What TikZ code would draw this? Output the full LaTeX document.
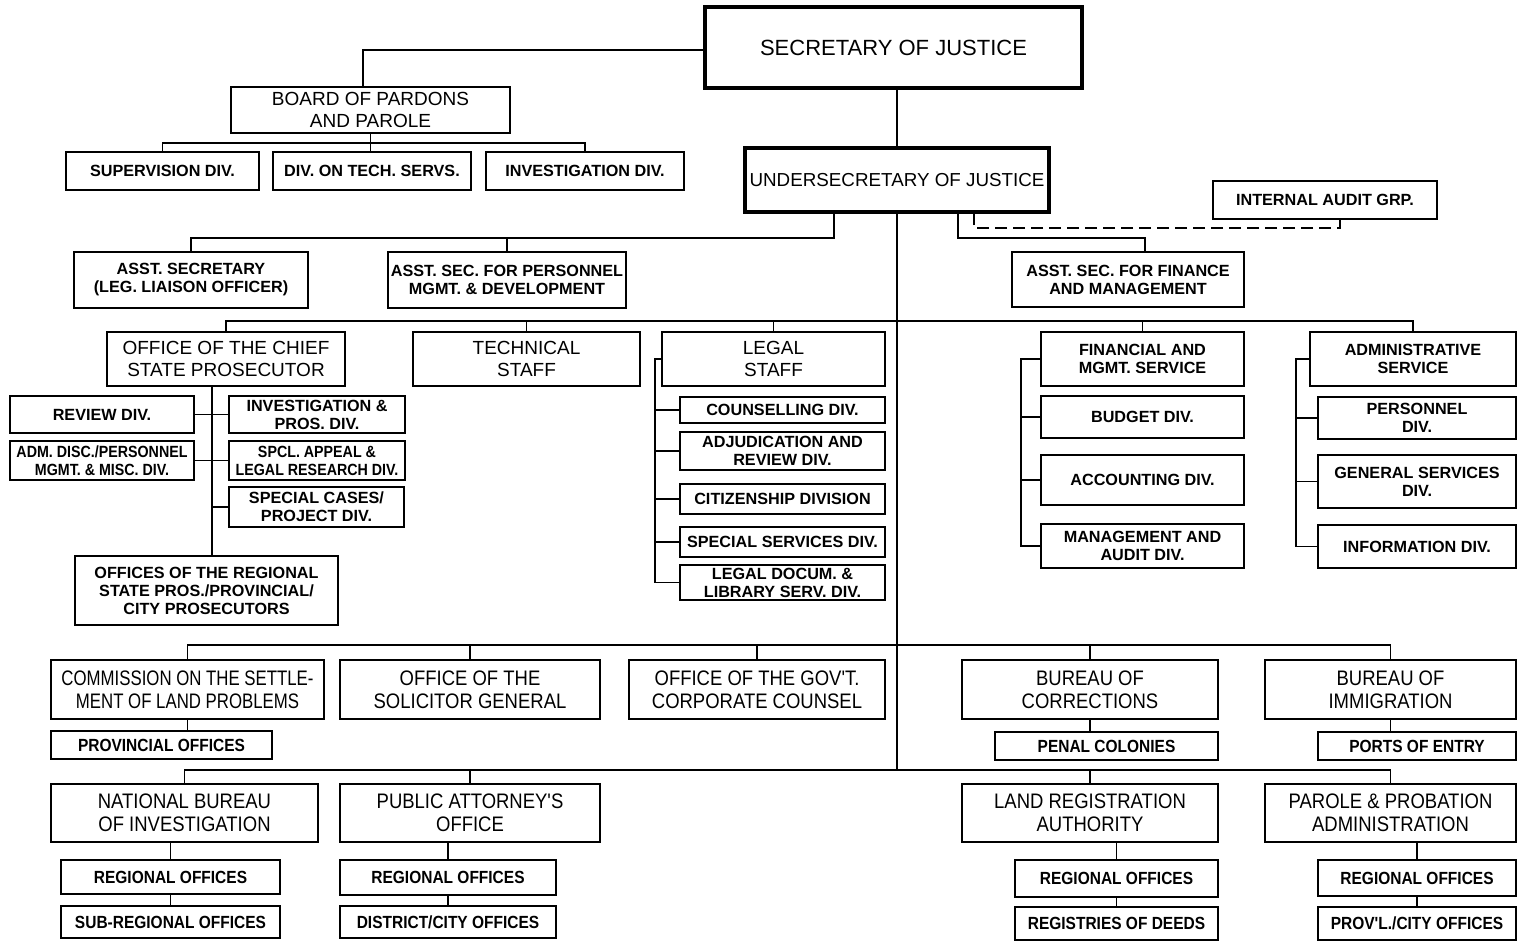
\documentclass[tikz,border=0pt]{standalone}
\usepackage{fontspec}
\setmainfont{Liberation Sans}
\newfontfamily\condf[FakeStretch=0.88]{Liberation Sans}
\newfontfamily\condff[FakeStretch=0.8]{Liberation Sans}
\usetikzlibrary{calc}
\newcommand\bx[7][]{\node[box,#1,minimum width={(#5-#3)*0.5pt},minimum height={(#6-#4)*0.5pt}] (#2) at ({(#3+#5)/2},{(#4+#6)/2}) {#7};}
\tikzset{
  box/.style={draw, line width=1pt, inner sep=1pt, outer sep=0pt, align=center},
  topbox/.style={line width=1.7pt, font=\fontsize{11}{13}\selectfont},
  big/.style={font=\fontsize{9.5}{11}\selectfont},
  sm/.style={font=\fontsize{8.1}{9}\selectfont\bfseries},
  smc/.style={font=\condf\fontsize{8.1}{9}\selectfont\bfseries},
  bot/.style={font=\condf\fontsize{10.5}{11.5}\selectfont},
  botc/.style={font=\condff\fontsize{10.5}{11.5}\selectfont},
  botsm/.style={font=\condf\fontsize{8.8}{10}\selectfont\bfseries},
  conn/.style={line width=0.9pt},
  dashconn/.style={line width=0.9pt, dash pattern=on 6pt off 3pt}
}
\begin{document}
\begin{tikzpicture}[x=0.5pt,y=-0.5pt]
\useasboundingbox (0,0) rectangle (1518,942);
% top
\bx[topbox]{sec}{705}{7}{1082}{88}{\raisebox{-2.5pt}{SECRETARY OF JUSTICE}}
\bx[big]{board}{231}{87}{510}{133}{BOARD OF PARDONS\\AND PAROLE}
\bx[sm]{sup}{66}{152}{259}{190}{SUPERVISION DIV.}
\bx[sm]{dts}{273}{152}{471}{190}{DIV. ON TECH. SERVS.}
\bx[sm]{inv}{486}{152}{684}{190}{INVESTIGATION DIV.}
\bx[topbox,font=\fontsize{9.4}{11}\selectfont]{under}{745}{148}{1049}{212}{UNDERSECRETARY OF JUSTICE}
\bx[sm]{audit}{1213}{181}{1437}{219}{INTERNAL AUDIT GRP.}
\bx[sm]{asst1}{74}{252}{308}{308}{ASST. SECRETARY\\(LEG. LIAISON OFFICER)}
\bx[sm]{asst2}{388}{252}{626}{308}{ASST. SEC. FOR PERSONNEL\\MGMT. \& DEVELOPMENT}
\bx[sm]{asst3}{1012}{252}{1244}{307}{ASST. SEC. FOR FINANCE\\AND MANAGEMENT}
% second row
\bx[big]{chief}{107}{332}{345}{386}{OFFICE OF THE CHIEF\\STATE PROSECUTOR}
\bx[big]{techst}{413}{332}{640}{386}{TECHNICAL\\STAFF}
\bx[big]{legal}{662}{332}{885}{386}{LEGAL\\STAFF}
\bx[sm]{finsv}{1041}{332}{1244}{386}{FINANCIAL AND\\MGMT. SERVICE}
\bx[sm]{adminsv}{1310}{332}{1516}{386}{ADMINISTRATIVE\\SERVICE}
% chief prosecutor divisions
\bx[sm]{review}{10}{396}{194}{433}{REVIEW DIV.}
\bx[smc]{admdisc}{10}{441}{194}{480}{ADM. DISC./PERSONNEL\\MGMT. \& MISC. DIV.}
\bx[sm]{invpros}{229}{396}{405}{433}{INVESTIGATION \&\\PROS. DIV.}
\bx[smc]{spcl}{229}{441}{405}{480}{SPCL. APPEAL \&\\LEGAL RESEARCH DIV.}
\bx[sm]{special}{229}{487}{404}{527}{SPECIAL CASES/\\PROJECT DIV.}
\bx[sm]{regpros}{75}{556}{338}{625}{OFFICES OF THE REGIONAL\\STATE PROS./PROVINCIAL/\\CITY PROSECUTORS}
% legal staff divisions
\bx[sm]{couns}{680}{397}{885}{423}{COUNSELLING DIV.}
\bx[sm]{adjud}{680}{432}{885}{470}{ADJUDICATION AND\\REVIEW DIV.}
\bx[sm]{citiz}{680}{484}{885}{514}{CITIZENSHIP DIVISION}
\bx[sm]{spserv}{680}{527}{885}{557}{SPECIAL SERVICES DIV.}
\bx[sm]{libr}{680}{565}{885}{600}{LEGAL DOCUM. \&\\LIBRARY SERV. DIV.}
% finance divisions
\bx[sm]{budget}{1041}{396}{1244}{438}{BUDGET DIV.}
\bx[sm]{acct}{1041}{455}{1244}{505}{ACCOUNTING DIV.}
\bx[sm]{mgmtaud}{1041}{524}{1244}{568}{MANAGEMENT AND\\AUDIT DIV.}
% admin divisions
\bx[sm]{pers}{1318}{397}{1516}{439}{PERSONNEL\\DIV.}
\bx[sm]{gensv}{1318}{455}{1516}{508}{GENERAL SERVICES\\DIV.}
\bx[sm]{info}{1318}{525}{1516}{568}{INFORMATION DIV.}
% third row
\bx[botc]{comm}{51}{660}{324}{719}{COMMISSION ON THE SETTLE-\\MENT OF LAND PROBLEMS}
\bx[bot]{solgen}{340}{660}{600}{719}{OFFICE OF THE\\SOLICITOR GENERAL}
\bx[bot]{ogcc}{629}{660}{885}{719}{OFFICE OF THE GOV'T.\\CORPORATE COUNSEL}
\bx[bot]{corr}{962}{660}{1218}{719}{BUREAU OF\\CORRECTIONS}
\bx[bot]{immig}{1265}{660}{1516}{719}{BUREAU OF\\IMMIGRATION}
\bx[botsm]{prov}{51}{731}{272}{759}{PROVINCIAL OFFICES}
\bx[botsm]{penal}{995}{732}{1218}{760}{PENAL COLONIES}
\bx[botsm]{ports}{1318}{732}{1516}{760}{PORTS OF ENTRY}
% fourth row
\bx[bot]{nbi}{51}{784}{318}{842}{NATIONAL BUREAU\\OF INVESTIGATION}
\bx[bot]{pao}{340}{784}{600}{842}{PUBLIC ATTORNEY'S\\OFFICE}
\bx[bot]{lra}{962}{784}{1218}{842}{LAND REGISTRATION\\AUTHORITY}
\bx[bot]{ppa}{1265}{784}{1516}{842}{PAROLE \& PROBATION\\ADMINISTRATION}
\bx[botsm]{nreg}{61}{860}{280}{894}{REGIONAL OFFICES}
\bx[botsm]{nsub}{61}{906}{280}{938}{SUB-REGIONAL OFFICES}
\bx[botsm]{preg}{340}{860}{556}{895}{REGIONAL OFFICES}
\bx[botsm]{pdist}{340}{906}{556}{938}{DISTRICT/CITY OFFICES}
\bx[botsm]{lreg}{1015}{860}{1218}{897}{REGIONAL OFFICES}
\bx[botsm]{ldeeds}{1015}{907}{1218}{940}{REGISTRIES OF DEEDS}
\bx[botsm]{ppreg}{1318}{860}{1516}{896}{REGIONAL OFFICES}
\bx[botsm]{ppprov}{1318}{907}{1516}{940}{PROV'L./CITY OFFICES}
% coordinates for buses
\coordinate (bb) at (372,143);
\coordinate (sb) at (363,50);
\coordinate (uL) at (834,238);
\coordinate (uR) at (958,238);
\coordinate (uR2) at (1145,238);
\coordinate (dA) at (974,228);
\coordinate (dB) at (1340,228);
\coordinate (r2) at (897,321);
\coordinate (r3) at (897,645);
\coordinate (r4) at (897,770);
\coordinate (cv) at (212,400);
\coordinate (lv) at (655,400);
\coordinate (fv) at (1021,400);
\coordinate (av) at (1296,400);
% connectors
\draw[conn] (sec.west |- sb) -- (sb) -- (sb |- board.north);
\draw[conn] (board.south) -- (board.south |- dts.north);
\draw[conn] (sup.north) |- (bb) -| (inv.north);
\draw[conn] (under.north) -- (under.north |- sec.south);
\draw[conn] (under.south) -- (r4);
\draw[conn] (under.south -| uL) -- (uL) -| (asst1.north);
\draw[conn] (asst2.north) -- (asst2.north |- uL);
\draw[conn] (under.south -| uR) -- (uR) -- (uR2) -- (uR2 |- asst3.north);
\draw[dashconn] (dB |- audit.south) -- (dB) -- (dA) -- (dA |- under.south);
% row 2
\draw[conn] (chief.north) |- (r2) -| (adminsv.north);
\draw[conn] (techst.north) -- (techst.north |- r2);
\draw[conn] (legal.north) -- (legal.north |- r2);
\draw[conn] (finsv.north) -- (finsv.north |- r2);
% chief
\draw[conn] (chief.south -| cv) -- (cv |- regpros.north);
\draw[conn] (review.east) -- (invpros.west);
\draw[conn] (admdisc.east) -- (spcl.west);
\draw[conn] (special.west) -- (special.west -| cv);
% legal
\draw[conn] (legal.west) -- (legal.west -| lv) -- (lv |- libr.west) -- (libr.west);
\draw[conn] (couns.west) -- (couns.west -| lv);
\draw[conn] (adjud.west) -- (adjud.west -| lv);
\draw[conn] (citiz.west) -- (citiz.west -| lv);
\draw[conn] (spserv.west) -- (spserv.west -| lv);
% finance
\draw[conn] (finsv.west) -- (finsv.west -| fv) -- (fv |- mgmtaud.west) -- (mgmtaud.west);
\draw[conn] (budget.west) -- (budget.west -| fv);
\draw[conn] (acct.west) -- (acct.west -| fv);
% admin
\draw[conn] (adminsv.west) -- (adminsv.west -| av) -- (av |- info.west) -- (info.west);
\draw[conn] (pers.west) -- (pers.west -| av);
\draw[conn] (gensv.west) -- (gensv.west -| av);
% row 3
\draw[conn] (comm.north) |- (r3) -| (immig.north);
\draw[conn] (solgen.north) -- (solgen.north |- r3);
\draw[conn] (ogcc.north) -- (ogcc.north |- r3);
\draw[conn] (corr.north) -- (corr.north |- r3);
\draw[conn] (comm.south) -- (prov.north -| comm.south);
\draw[conn] (corr.south) -- (corr.south |- penal.north);
\draw[conn] (immig.south) -- (immig.south |- ports.north);
% row 4
\draw[conn] (nbi.north) |- (r4) -| (ppa.north);
\draw[conn] (pao.north) -- (pao.north |- r4);
\draw[conn] (lra.north) -- (lra.north |- r4);
\draw[conn] (nreg.north) -- (nreg.north |- nbi.south);
\draw[conn] (nreg.south) -- (nsub.north);
\draw[conn] (preg.north) -- (preg.north |- pao.south);
\draw[conn] (preg.south) -- (pdist.north);
\draw[conn] (lreg.north) -- (lreg.north |- lra.south);
\draw[conn] (lreg.south) -- (ldeeds.north);
\draw[conn] (ppreg.north) -- (ppreg.north |- ppa.south);
\draw[conn] (ppreg.south) -- (ppprov.north);
\end{tikzpicture}
\end{document}
